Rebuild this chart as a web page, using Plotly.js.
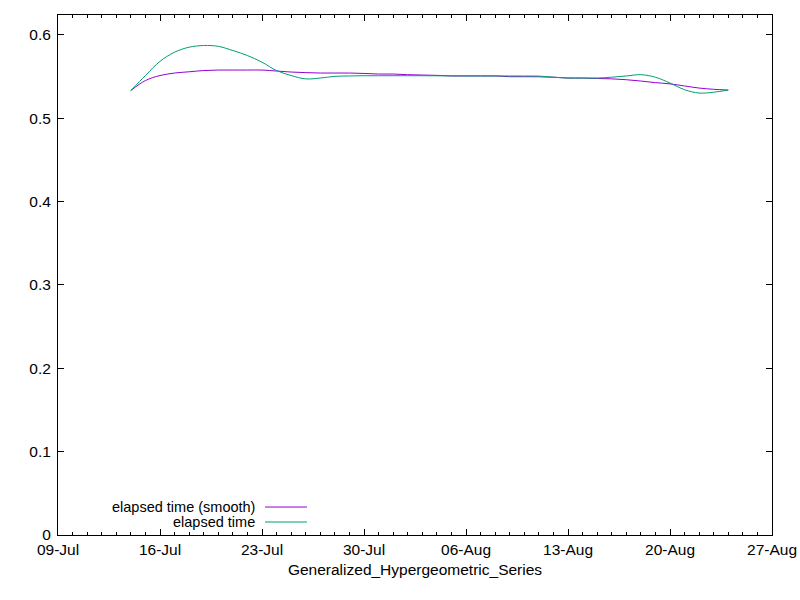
<!DOCTYPE html>
<html>
<head>
<meta charset="utf-8">
<script src="https://cdn.plot.ly/plotly-3.0.1.min.js"></script>
<style>
  html, body { margin: 0; padding: 0; background: #fff; }
  #chart { width: 800px; height: 600px; }
</style>
</head>
<body>
<div id="chart"></div>
<script>
"use strict";

// dates of the daily runs
const runDates = [
    '2023-07-14', '2023-07-15', '2023-07-16', '2023-07-17', '2023-07-18', '2023-07-19',
    '2023-07-20', '2023-07-21', '2023-07-22', '2023-07-23', '2023-07-24', '2023-07-25',
    '2023-07-26', '2023-07-27', '2023-07-28', '2023-07-29', '2023-07-30', '2023-07-31',
    '2023-08-01', '2023-08-02', '2023-08-03', '2023-08-04', '2023-08-05', '2023-08-06',
    '2023-08-07', '2023-08-08', '2023-08-09', '2023-08-10', '2023-08-11', '2023-08-12',
    '2023-08-13', '2023-08-14', '2023-08-15', '2023-08-16', '2023-08-17', '2023-08-18',
    '2023-08-19', '2023-08-20', '2023-08-21', '2023-08-22', '2023-08-23', '2023-08-24'
];

// elapsed time
const elapsedTime = [
    0.533, 0.551, 0.568, 0.579, 0.585, 0.587,
    0.586, 0.581, 0.575, 0.567, 0.557, 0.551,
    0.547, 0.548, 0.550, 0.5505, 0.5508, 0.5508,
    0.5508, 0.5508, 0.5508, 0.5507, 0.5506, 0.5505,
    0.5505, 0.5505, 0.5505, 0.5504, 0.5503, 0.549,
    0.548, 0.548, 0.548, 0.549, 0.5505, 0.552,
    0.549, 0.542, 0.534, 0.530, 0.531, 0.5336
];

// elapsed time (smooth)
const elapsedSmooth = [
    0.533, 0.545, 0.551, 0.554, 0.5555, 0.557,
    0.5576, 0.5576, 0.5576, 0.5576, 0.5564, 0.5552,
    0.5545, 0.554, 0.554, 0.554, 0.5535, 0.5528,
    0.5528, 0.552, 0.5516, 0.5512, 0.5505, 0.5505,
    0.5505, 0.5505, 0.5496, 0.5496, 0.5495, 0.549,
    0.548, 0.548, 0.5475, 0.547, 0.546, 0.5444,
    0.5425, 0.541, 0.5385, 0.536, 0.5345, 0.5336
];

const xRange = ['2023-07-09', '2023-08-27'];
const seriesNames = ['elapsed time (smooth)', 'elapsed time'];
const seriesColors = ['#9400d3', '#009e73'];

const baseFont = { family: 'Liberation Sans, Arial, sans-serif', size: 15.5, color: '#000' };
const keyFont = { ...baseFont, size: 14.5 };
const DAY = 86400000;

const traces = [
    { x: runDates, y: elapsedSmooth, type: 'scatter', mode: 'lines', name: seriesNames[0],
      line: { color: seriesColors[0], width: 1, shape: 'spline' }, hoverinfo: 'x+y' },
    { x: runDates, y: elapsedTime, type: 'scatter', mode: 'lines', name: seriesNames[1],
      line: { color: seriesColors[1], width: 1, shape: 'spline' }, hoverinfo: 'x+y' }
];

// gnuplot style key: text on the left, sample line on the right
const keyRows = [0.0538, 0.025];
const annotations = seriesNames.map((name, i) => ({
    xref: 'paper', yref: 'paper', x: 0.279, y: keyRows[i],
    xanchor: 'right', yanchor: 'middle', showarrow: false,
    text: name, font: keyFont
}));
const shapes = seriesNames.map((name, i) => ({
    type: 'line', xref: 'paper', yref: 'paper',
    x0: 0.2899, x1: 0.3487, y0: keyRows[i], y1: keyRows[i],
    line: { color: seriesColors[i], width: 1 }
}));

const layout = {
    width: 800,
    height: 600,
    paper_bgcolor: '#fff',
    plot_bgcolor: '#fff',
    font: baseFont,
    showlegend: false,
    margin: { l: 58, r: 28, t: 15, b: 65 },
    xaxis: {
        type: 'date',
        range: xRange,
        tick0: xRange[0],
        dtick: 7 * DAY,
        tickformat: '%d-%b',
        ticks: 'inside',
        ticklen: 6,
        tickcolor: '#000',
        showline: true,
        linecolor: '#000',
        linewidth: 1,
        mirror: 'allticks',
        showgrid: false,
        zeroline: false,
        minor: { dtick: DAY, ticks: 'inside', ticklen: 3, tickcolor: '#000', showgrid: false },
        title: { text: 'Generalized_Hypergeometric_Series', font: baseFont, standoff: 7 }
    },
    yaxis: {
        range: [0, 0.6236],
        dtick: 0.1,
        tick0: 0,
        ticks: 'inside',
        ticklen: 6,
        tickcolor: '#000',
        showline: true,
        linecolor: '#000',
        linewidth: 1,
        mirror: 'allticks',
        showgrid: false,
        zeroline: false,
        ticklabelstandoff: 3
    },
    annotations: annotations,
    shapes: shapes
};

Plotly.newPlot('chart', traces, layout, { displayModeBar: false, staticPlot: true });
</script>
</body>
</html>
